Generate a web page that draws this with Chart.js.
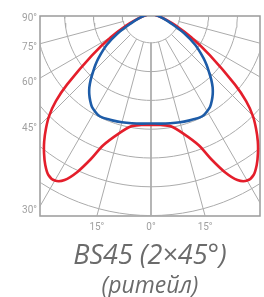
<!DOCTYPE html>
<html>
<head>
<meta charset="utf-8">
<script src="https://cdn.jsdelivr.net/npm/chart.js@4.4.1/dist/chart.umd.min.js"></script>
<style>
  html, body { margin: 0; padding: 0; background: #fff; overflow: hidden; }
  #wrap { position: relative; width: 264px; height: 297px; }
  #grafico { position: absolute; left: 0; top: 0; }
  .titulo { position: absolute; left: 0; width: 300px; text-align: center; font-family: 'Open Sans', sans-serif; font-style: italic; color: #6b6b6b; white-space: nowrap; }
</style>
</head>
<body>
<div id="wrap">
  <canvas id="grafico" width="264" height="297"></canvas>
  <div class="titulo" style="top:240px;font-size:27px;line-height:27px;">BS45 (2×45°)</div>
  <div class="titulo" style="top:273px;font-size:23px;line-height:23px;">(ритейл)</div>
</div>
<script>
// Ángulos desde la vertical (grados) y radio de cada curva (1 = un anillo de la rejilla)
const angulos  = [0, 5, 10, 15, 20, 22.5, 25, 27.5, 30, 32.5, 35, 37.5, 40, 42.5, 45, 47.5, 50, 55, 60, 65, 70, 75, 80, 85, 90];
const curvaRoja = [3.85, 3.87, 3.96, 4.29, 4.85, 5.45, 6.05, 6.50, 6.68, 6.63, 6.40, 6.10, 5.77, 5.40, 5.00, 4.48, 3.80, 2.50, 1.60, 0.95, 0.50, 0.27, 0.13, 0.05, 0];
const curvaAzul = [3.80, 3.82, 3.85, 3.89, 3.93, 3.95, 3.97, 3.96, 3.90, 3.82, 3.68, 3.52, 3.33, 3.10, 2.85, 2.62, 2.38, 1.88, 1.32, 0.77, 0.45, 0.25, 0.12, 0.05, 0];

// Rejilla polar
const anillos = [1, 2, 3, 4, 5, 6, 7, 8];
const radiales = [-75, -60, -45, -30, -15, 0, 15, 30, 45, 60, 75];

// Etiquetas de ángulo
const etiquetasIzq = [90, 75, 60, 45, 30];
const etiquetasAbajo = [-15, 0, 15];

// Ventana del diagrama (en anillos; el origen queda arriba al centro)
const X_MIN = -3.854, X_MAX = 3.785;
const Y_MIN = -7.014, Y_MAX = -0.069;

function polar(grados, r) {
    const t = grados * Math.PI / 180;
    return { x: r * Math.sin(t), y: -r * Math.cos(t) };
}

function curvaSimetrica(valores) {
    const pts = [];
    for (let i = angulos.length - 1; i >= 0; i--) pts.push(polar(-angulos[i], valores[i]));
    for (let i = 1; i < angulos.length; i++) pts.push(polar(angulos[i], valores[i]));
    return pts;
}

const lineaRejilla = {
    showLine: true, pointRadius: 0, borderWidth: 1, borderColor: '#ababab',
    tension: 0, clip: 0
};

const datasets = [
    { data: curvaSimetrica(curvaAzul), showLine: true, pointRadius: 0, borderWidth: 2.6, borderColor: '#1d5ca8', tension: 0.3, clip: 0 },
    { data: curvaSimetrica(curvaRoja), showLine: true, pointRadius: 0, borderWidth: 2.6, borderColor: '#e41e2b', tension: 0.3, clip: 0 }
];

anillos.forEach(r => {
    const pts = [];
    for (let a = -90; a <= 90; a += 3) pts.push(polar(a, r));
    datasets.push({ ...lineaRejilla, data: pts });
});

radiales.forEach(a => {
    datasets.push({ ...lineaRejilla, data: [polar(a, anillos[0]), polar(a, 10)] });
});

const marco = {
    id: 'marco',
    beforeDatasetsDraw(chart) {
        const { ctx, chartArea: a } = chart;
        ctx.save();
        ctx.strokeStyle = '#9a9a9a';
        ctx.lineWidth = 1.5;
        ctx.strokeRect(a.left, a.top, a.right - a.left, a.bottom - a.top);
        ctx.restore();
    }
};

const fuenteEje = { family: 'Roboto', size: 10 };

new Chart(document.getElementById('grafico'), {
    type: 'scatter',
    data: { datasets },
    plugins: [marco],
    options: {
        responsive: false,
        animation: false,
        events: [],
        layout: { padding: { top: 16, right: 4, left: 0, bottom: 0 } },
        plugins: { legend: { display: false }, tooltip: { enabled: false } },
        scales: {
            x: {
                type: 'linear', position: 'bottom', min: X_MIN, max: X_MAX,
                grid: { display: false, drawTicks: false },
                border: { display: false },
                afterBuildTicks: (eje) => {
                    eje.ticks = etiquetasAbajo.map(a => ({ value: -Y_MIN * Math.tan(a * Math.PI / 180) }));
                },
                afterFit: (eje) => { eje.height = 81; },
                ticks: {
                    autoSkip: false, maxRotation: 0, padding: 5, color: '#a0a0a0', font: fuenteEje,
                    callback: (v, i) => Math.abs(etiquetasAbajo[i]) + '°'
                }
            },
            y: {
                type: 'linear', position: 'left', min: Y_MIN, max: Y_MAX,
                grid: { display: false, drawTicks: false },
                border: { display: false },
                afterBuildTicks: (eje) => {
                    eje.ticks = etiquetasIzq.map(a => ({ value: X_MIN / Math.tan(a * Math.PI / 180) }));
                },
                afterFit: (eje) => { eje.width = 40; },
                ticks: {
                    autoSkip: false, padding: 3, labelOffset: 4, color: '#a0a0a0', font: fuenteEje,
                    callback: (v, i) => etiquetasIzq[i] + '°'
                }
            }
        }
    }
});
</script>
</body>
</html>
